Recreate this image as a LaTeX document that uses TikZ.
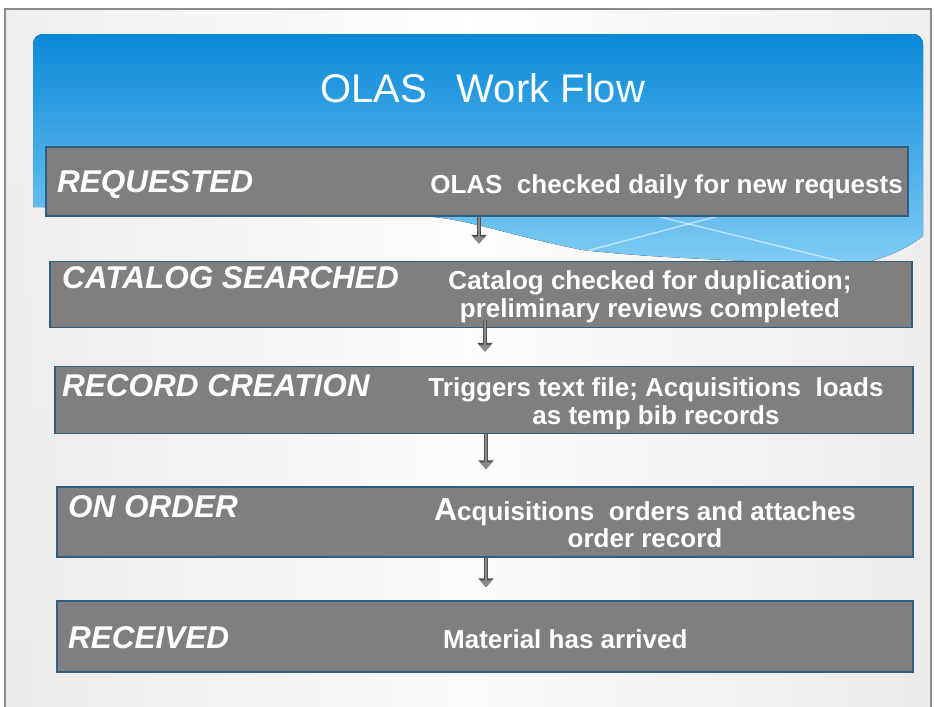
\documentclass[tikz,border=0pt]{standalone}
\usepackage{fontspec}
\setmainfont{Liberation Sans}
\usetikzlibrary{arrows.meta,calc}
\definecolor{boxfill}{HTML}{7F7F7F}
\definecolor{boxedge}{HTML}{2F5E7E}
\definecolor{bluetop}{HTML}{0A89D8}
\definecolor{bluemid}{HTML}{3AABEB}
\definecolor{bluelow}{HTML}{80CCF5}
\definecolor{arrowgray}{HTML}{8A8A8A}
\definecolor{arrowdark}{HTML}{505050}
\definecolor{framegray}{HTML}{8C8C8C}
\definecolor{bgedge}{HTML}{D6D6D6}
\begin{document}
\begin{tikzpicture}[x=1pt,y=-1pt,
  stagebox/.style={draw=boxedge, line width=1.5pt, fill=boxfill, inner sep=0pt},
  stagelabel/.style={text=white, inner sep=0pt, anchor=base west,
    font=\fontsize{31.5}{34}\selectfont\bfseries\itshape},
  stagenote/.style={text=white, inner sep=0pt, align=center,
    font=\fontsize{26}{27.5}\selectfont\bfseries},
  flowarrow/.style={draw=arrowgray, line width=2.2pt,
    -{Triangle[width=12pt,length=7pt]},
    preaction={draw=arrowdark, line width=4pt, -{Triangle[width=15pt,length=9pt]}}}
]
\useasboundingbox (0,0) rectangle (935,707);
% slide background
\fill[white] (0,0) rectangle (935,707);
\shade[left color=bgedge, right color=bgedge, middle color=white] (5,9) rectangle (931,712);
\shade[top color=white, bottom color=white!85!bgedge, opacity=0.6] (5,9) rectangle (931,712);
\draw[framegray, line width=1.5pt] (5,712) -- (5,9) -- (931,9) -- (931,712);
% blue header with wave
\begin{scope}
  \clip[rounded corners=10pt] (33,34) rectangle (923,300);
  \fill[top color=bluetop, middle color=bluemid, bottom color=bluelow]
    (33,34) -- (923,34) -- (923,236)
    .. controls (905,250) and (885,258) .. (860,264)
    .. controls (760,262) and (650,258) .. (583,250)
    .. controls (520,238) and (470,220) .. (433,217)
    .. controls (300,212) and (120,209) .. (33,207) -- cycle;
  \begin{scope}
    \clip (923,236)
    .. controls (905,250) and (885,258) .. (860,264)
    .. controls (760,262) and (650,258) .. (583,250)
    .. controls (520,238) and (470,220) .. (433,217)
    -- (433,200) -- (923,200) -- cycle;
    \draw[white, opacity=0.55, line width=1.4pt] (560,258) -- (760,205);
    \draw[white, opacity=0.55, line width=1.4pt] (640,212) -- (860,266);
  \end{scope}
\end{scope}
% title
\node[text=white, inner sep=0pt, anchor=base west,
  font=\fontsize{40}{42}\selectfont] (title) at (320,102) {OLAS\hspace{30pt}Work Flow};
% stage boxes
\node[stagebox, minimum width=862pt, minimum height=69pt] (b1) at (477,181.5) {};
\node[stagebox, minimum width=862pt, minimum height=66pt] (b2) at (481,294.5) {};
\node[stagebox, minimum width=858pt, minimum height=67pt] (b3) at (484,400) {};
\node[stagebox, minimum width=856pt, minimum height=70pt] (b4) at (485,522) {};
\node[stagebox, minimum width=856pt, minimum height=71pt] (b5) at (485,636.5) {};
% arrows
\draw[flowarrow, shorten >=17pt] ([xshift=2pt]b1.south) -- ([xshift=2pt]b1.south |- b2.north);
\draw[flowarrow, shorten <=-8pt, shorten >=14pt] ([xshift=4pt]b2.south) -- ([xshift=4pt]b2.south |- b3.north);
\draw[flowarrow, shorten >=17pt] ([xshift=2pt]b3.south) -- ([xshift=2pt]b3.south |- b4.north);
\draw[flowarrow, shorten >=13pt] ([xshift=1pt]b4.south) -- ([xshift=1pt]b4.south |- b5.north);
% left labels
\node[stagelabel] (l1) at (57,192) {REQUESTED};
\node[stagelabel] (l2) at (62,288) {CATALOG SEARCHED};
\node[stagelabel] (l3) at (62,396) {RECORD CREATION};
\node[stagelabel] (l4) at (68,517) {ON ORDER};
\node[stagelabel] (l5) at (68,648) {RECEIVED};
% right notes
\node[stagenote, anchor=base east] (n1) at (903,193) {OLAS\ \ checked daily for new requests};
\node[stagenote] (n2) at (650,297) {Catalog checked for duplication;\\preliminary reviews completed};
\node[stagenote] (n3) at (656,404) {Triggers text file; Acquisitions\ \ loads\\as temp bib records};
\node[stagenote] (n4) at (645,523) {{\fontsize{32}{32}\selectfont A}cquisitions\ \ orders\ and attaches\\order record};
\node[stagenote, anchor=base west] (n5) at (443,648) {Material has arrived};
\end{tikzpicture}
\end{document}
